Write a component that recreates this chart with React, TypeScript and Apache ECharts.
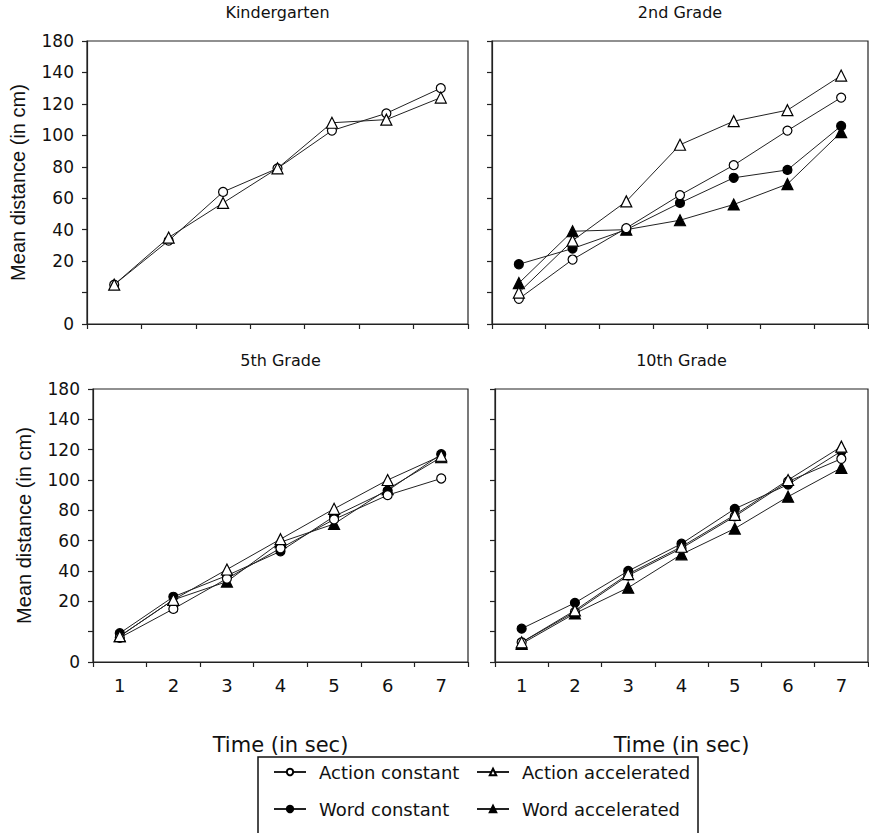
import React, { useEffect, useRef } from "react";
import * as echarts from "echarts";

const categories = ["1", "2", "3", "4", "5", "6", "7"];
const yTickLabels = ["0", "", "20", "40", "60", "80", "100", "120", "140", "180"];
const panelTitles = ["Kindergarten", "2nd Grade", "5th Grade", "10th Grade"];
const seriesNames = ["Action constant", "Action accelerated", "Word constant", "Word accelerated"];

const kgActionConstant = [25, 53, 84, 99, 123, 134, 150];
const kgActionAccelerated = [25, 55, 77, 99, 128, 130, 144];

const g2ActionConstant = [16, 41, 61, 82, 101, 123, 144];
const g2ActionAccelerated = [20, 53, 78, 114, 129, 136, 158];
const g2WordConstant = [38, 48, 60, 77, 93, 98, 126];
const g2WordAccelerated = [26, 59, 60, 66, 76, 89, 122];

const g5ActionConstant = [16, 35, 55, 75, 94, 110, 121];
const g5ActionAccelerated = [17, 41, 61, 81, 101, 120, 136];
const g5WordConstant = [19, 43, 57, 73, 96, 113, 137];
const g5WordAccelerated = [17, 41, 53, 79, 91, 114, 135];

const g10ActionConstant = [13, 33, 57, 75, 96, 119, 134];
const g10ActionAccelerated = [13, 34, 58, 76, 97, 120, 142];
const g10WordConstant = [22, 39, 60, 78, 101, 117, 139];
const g10WordAccelerated = [12, 32, 49, 71, 88, 109, 128];

const panelData: (number[] | null)[][] = [
  [kgActionConstant, kgActionAccelerated, null, null],
  [g2ActionConstant, g2ActionAccelerated, g2WordConstant, g2WordAccelerated],
  [g5ActionConstant, g5ActionAccelerated, g5WordConstant, g5WordAccelerated],
  [g10ActionConstant, g10ActionAccelerated, g10WordConstant, g10WordAccelerated],
];

const H_FONT = "DejaVu Sans";
const V_FONT = "Liberation Sans";

const grids = [
  { left: 87, top: 41, width: 381, height: 283 },
  { left: 492, top: 41, width: 376, height: 283 },
  { left: 93, top: 389, width: 375, height: 273 },
  { left: 495, top: 389, width: 373, height: 273 },
];

const markerStyles = [
  { symbol: "circle", symbolSize: 9, fill: "#ffffff" },
  { symbol: "triangle", symbolSize: 11, fill: "#ffffff" },
  { symbol: "circle", symbolSize: 9, fill: "#000000" },
  { symbol: "triangle", symbolSize: 11, fill: "#000000" },
];

export default function App() {
  const ref = useRef<HTMLDivElement>(null);
  useEffect(() => {
    if (!ref.current) return;
    const chart = echarts.init(ref.current, null, { renderer: "svg" });

    const isLeft = (i: number) => i % 2 === 0;
    const isBottom = (i: number) => i >= 2;

    const xAxis = grids.map((_, i) => ({
      type: "category",
      gridIndex: i,
      data: categories,
      boundaryGap: true,
      axisLine: { show: true, lineStyle: { color: "#222", width: 1.2 } },
      axisTick: { show: true, inside: false, length: 5, lineStyle: { color: "#222", width: 1.2 } },
      axisLabel: {
        show: isBottom(i),
        color: "#111",
        fontFamily: H_FONT,
        fontSize: 18,
        margin: 14,
      },
      name: isBottom(i) ? "Time (in sec)" : "",
      nameLocation: "middle",
      nameGap: 72,
      nameTextStyle: { color: "#111", fontFamily: H_FONT, fontSize: 21 },
      splitLine: { show: false },
    }));

    const yAxis = grids.map((_, i) => ({
      type: "value",
      gridIndex: i,
      min: 0,
      max: 180,
      interval: 20,
      axisLine: { show: true, lineStyle: { color: "#222", width: 1.2 } },
      axisTick: { show: true, inside: false, length: 5, lineStyle: { color: "#222", width: 1.2 } },
      axisLabel: {
        show: isLeft(i),
        color: "#111",
        fontFamily: H_FONT,
        fontSize: 17,
        margin: 13,
        formatter: (v: number) => yTickLabels[Math.round(v / 20)] ?? "",
      },
      name: isLeft(i) ? "Mean distance (in cm)" : "",
      nameLocation: "middle",
      nameRotate: 90,
      nameGap: 59,
      nameTextStyle: { color: "#111", fontFamily: V_FONT, fontSize: 20 },
      splitLine: { show: false },
    }));

    const series: any[] = [];
    panelData.forEach((panel, pi) => {
      panel.forEach((values, si) => {
        if (!values) return;
        const m = markerStyles[si];
        series.push({
          name: seriesNames[si],
          type: "line",
          xAxisIndex: pi,
          yAxisIndex: pi,
          data: values,
          symbol: m.symbol,
          symbolSize: m.symbolSize,
          showSymbol: true,
          lineStyle: { color: "#222", width: 1 },
          itemStyle: { color: m.fill, borderColor: "#000", borderWidth: 1.2 },
          z: si < 2 ? 3 : 2,
        });
      });
    });

    const legendCommon = {
      orient: "vertical",
      top: 763,
      padding: 0,
      itemGap: 19,
      itemWidth: 32,
      itemHeight: 8,
      selectedMode: false,
      textStyle: { color: "#111", fontFamily: H_FONT, fontSize: 18, padding: [0, 0, 0, 8] },
    };

    chart.setOption({
      animation: false,
      backgroundColor: "#ffffff",
      title: panelTitles.map((t, i) => ({
        text: t,
        left: grids[i].left + grids[i].width / 2,
        textAlign: "center",
        top: i < 2 ? 4 : 352,
        padding: 0,
        textStyle: { color: "#111", fontFamily: H_FONT, fontSize: 16, fontWeight: "normal" },
      })),
      grid: grids.map((g) => ({
        ...g,
        show: true,
        borderColor: "#222",
        borderWidth: 1.2,
        backgroundColor: "transparent",
      })),
      xAxis,
      yAxis,
      legend: [
        { ...legendCommon, left: 273, data: [seriesNames[0], seriesNames[2]] },
        { ...legendCommon, left: 476, data: [seriesNames[1], seriesNames[3]] },
      ],
      graphic: [
        {
          type: "rect",
          shape: { x: 258, y: 757, width: 440, height: 100 },
          style: { fill: "none", stroke: "#111", lineWidth: 1.5 },
          silent: true,
        },
      ],
      series,
    });

    return () => chart.dispose();
  }, []);

  return (
    <div
      ref={ref}
      style={{ position: "fixed", left: 0, top: 0, width: 869, height: 833, background: "#fff" }}
    />
  );
}
